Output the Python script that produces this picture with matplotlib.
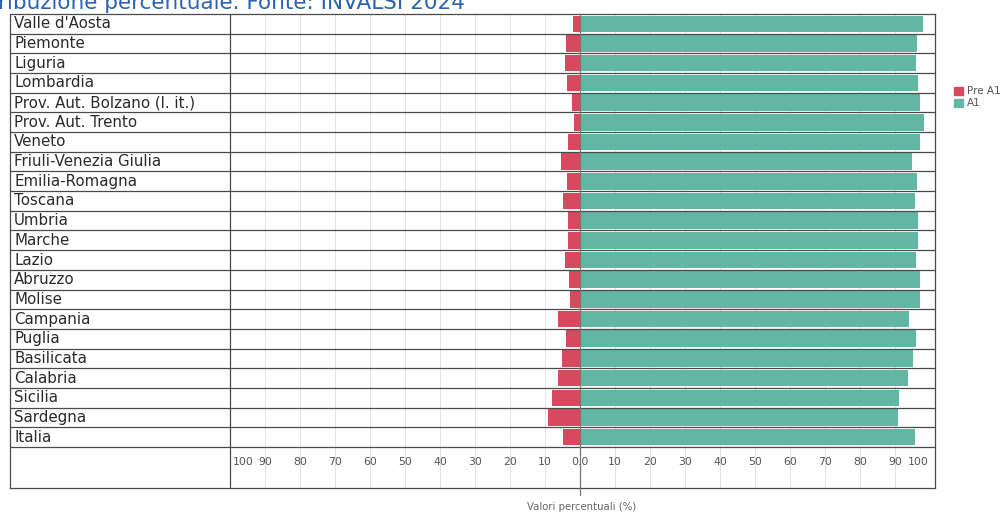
import matplotlib
matplotlib.use("Agg")
import matplotlib.pyplot as plt
from matplotlib.patches import Patch

regions = ["Valle d'Aosta", "Piemonte", "Liguria", "Lombardia", "Prov. Aut. Bolzano (l. it.)",
           "Prov. Aut. Trento", "Veneto", "Friuli-Venezia Giulia", "Emilia-Romagna", "Toscana",
           "Umbria", "Marche", "Lazio", "Abruzzo", "Molise", "Campania", "Puglia", "Basilicata",
           "Calabria", "Sicilia", "Sardegna", "Italia"]
pre_a1 = [2.0, 4.0, 4.3, 3.7, 2.3, 1.7, 3.4, 5.4, 3.7, 4.9, 3.4, 3.4, 4.3, 3.1, 2.9, 6.3, 4.0, 5.1, 6.3, 8.0, 9.1, 4.9]
a1 = [98.0, 96.3, 96.0, 96.6, 97.0, 98.3, 97.0, 94.8, 96.3, 95.7, 96.6, 96.6, 96.0, 97.0, 97.1, 94.0, 96.0, 95.0, 93.8, 91.2, 90.9, 95.7]
tick_vals = [-100, -90, -80, -70, -60, -50, -40, -30, -20, -10, 0, 10, 20, 30, 40, 50, 60, 70, 80, 90, 100]
tick_labels = ["100", "90", "80", "70", "60", "50", "40", "30", "20", "10", "0.0",
               "10", "20", "30", "40", "50", "60", "70", "80", "90", "100"]

title = "ribuzione percentuale. Fonte: INVALSI 2024"
RED = "#d8485e"
TEAL = "#62b6a4"
LINE = "#4a4a4a"

W, H = 1002, 514
fig = plt.figure(figsize=(W / 100, H / 100), dpi=100)
fig.patch.set_facecolor("white")

left_px, right_px, top_px, bot_px = 10, 935, 14, 488
ax = fig.add_axes([left_px / W, 1 - bot_px / H, (right_px - left_px) / W, (bot_px - top_px) / H])

ppu = 3.5  # pixels per unit
xmin = -100 - (230 - left_px) / ppu
xmax = 100 + (right_px - 930) / ppu
n = len(regions)
rowpx = (447 - top_px) / n
ybot = n - 0.5 + (bot_px - 447) / rowpx
ax.set_xlim(xmin, xmax)
ax.set_ylim(ybot, -0.5)

ys = list(range(n))
ax.barh(ys, [-v for v in pre_a1], height=0.84, color=RED, zorder=3, label="Pre A1")
ax.barh(ys, a1, height=0.84, color=TEAL, zorder=3, label="A1")

# light vertical gridlines
for t in tick_vals:
    if t not in (-100, 0, 100):
        ax.vlines(t, -0.5, ybot, color="#e2e2e2", lw=0.7, zorder=1)

# row separators
for b in range(1, n + 1):
    ax.hlines(b - 0.5, xmin, xmax, color=LINE, lw=0.9, zorder=4)

# vertical structure lines
ax.vlines(-100, -0.5, ybot, color=LINE, lw=0.9, zorder=4)
ax.plot([0, 0], [-0.5, ybot + 0.35], color="#777777", lw=0.9, zorder=4, clip_on=False)

for s in ax.spines.values():
    s.set_color(LINE)
    s.set_linewidth(0.9)
ax.set_xticks([])
ax.set_yticks([])

# row labels
for i, name in enumerate(regions):
    ax.text(xmin + 4 / ppu, i, name, ha="left", va="center", fontsize=10.8, color="#2a2a2a", zorder=5)

# tick labels
ty = n - 0.5 + (462 - 447) / rowpx
for v, lab in zip(tick_vals, tick_labels):
    ha = "center"
    x = v
    if v == -100:
        ha, x = "left", v + 0.8
    elif v == 100:
        ha, x = "right", v - 0.3
    ax.text(x, ty, lab, ha=ha, va="center", fontsize=7.8, color="#555555")

fig.text(582 / W, 1 - 507 / H, "Valori percentuali (%)", ha="center", va="center",
         fontsize=7.3, color="#666666")

fig.text(-2 / W, 1 - 9 / H, title, ha="left", va="baseline", fontsize=15.5, color="#2a64ad")

handles = [Patch(color=RED, label="Pre A1"), Patch(color=TEAL, label="A1")]
fig.legend(handles=handles, loc="upper left", bbox_to_anchor=(949 / W, 1 - 81 / H),
           frameon=False, fontsize=7.5, handlelength=0.8, handleheight=0.8,
           handletextpad=0.4, labelspacing=0.2, borderpad=0, labelcolor="#555555")

fig.savefig("out.png", dpi=100, facecolor="white")
